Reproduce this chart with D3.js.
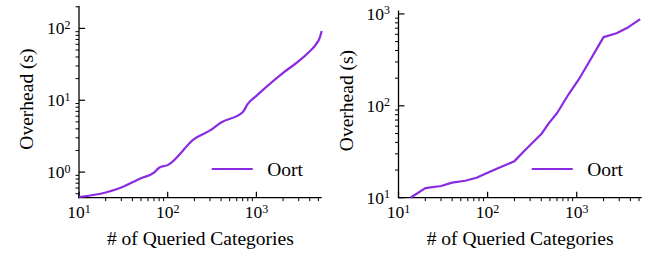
<!DOCTYPE html>
<html>
<head>
<meta charset="utf-8">
<script src="https://cdn.jsdelivr.net/npm/d3@7"></script>
<style>
  body { margin: 0; background: #fff; }
  svg text { font-family: "Liberation Serif", "Times New Roman", serif; fill: #000; }
</style>
</head>
<body>
<svg id="chart" width="655" height="254"></svg>
<script>
'use strict';

// values
const seriesName = 'Oort';
const leftCats = [10, 20, 30, 40, 50, 70, 80, 100, 200, 300, 400, 700, 800, 1000, 2000, 3000, 4000, 4700, 5200, 5450];
const leftOverhead = [0.45, 0.52, 0.61, 0.72, 0.82, 0.98, 1.15, 1.25, 2.9, 3.8, 4.9, 6.8, 8.9, 11.5, 24, 35, 48, 60, 75, 92];
const rightCats = [13.6, 20, 30, 40, 56, 75, 100, 145, 200, 264, 406, 482, 600, 650, 800, 1045, 1350, 2000, 2800, 3800, 5150];
const rightOverhead = [10, 12.7, 13.4, 14.6, 15.3, 16.5, 18.7, 21.8, 25, 33, 50, 64, 83, 94, 131, 191, 291, 560, 617, 718, 877];
const leftXTicks = [10, 100, 1000];
const leftYTicks = [1, 10, 100];
const rightXTicks = [10, 100, 1000];
const rightYTicks = [10, 100, 1000];

const svg = d3.select('#chart');
const purple = '#8a2be2';

// superscript label "10^k"
const powLabel = function (sel, v) {
  const k = Math.round(Math.log10(v));
  sel.append('tspan').text('10');
  sel.append('tspan').attr('font-size', 12).attr('dy', -5.5).text(k);
};

const panel = function (opt) {
  const g = svg.append('g');
  const x = d3.scaleLog().domain(opt.xDomain).range(opt.xRange);
  const y = d3.scaleLog().domain(opt.yDomain).range(opt.yRange);
  const x0 = opt.xRange[0], y0 = opt.yRange[0];

  // minor ticks point out, major ticks point in
  const xMinor = x.ticks().filter((t) => !opt.xMajor.includes(t));
  const yMinor = y.ticks().filter((t) => !opt.yMajor.includes(t));
  g.selectAll('.xminor').data(xMinor).join('line')
    .attr('x1', (d) => x(d)).attr('x2', (d) => x(d))
    .attr('y1', y0).attr('y2', y0 + 3.5)
    .attr('stroke', '#000').attr('stroke-width', 1);
  g.selectAll('.yminor').data(yMinor).join('line')
    .attr('y1', (d) => y(d)).attr('y2', (d) => y(d))
    .attr('x1', x0).attr('x2', x0 - 3.5)
    .attr('stroke', '#000').attr('stroke-width', 1);
  g.selectAll('.xmajor').data(opt.xMajor).join('line')
    .attr('x1', (d) => x(d)).attr('x2', (d) => x(d))
    .attr('y1', y0).attr('y2', y0 - 6)
    .attr('stroke', '#000').attr('stroke-width', 1.2);
  g.selectAll('.ymajor').data(opt.yMajor).join('line')
    .attr('y1', (d) => y(d)).attr('y2', (d) => y(d))
    .attr('x1', x0).attr('x2', x0 + 6)
    .attr('stroke', '#000').attr('stroke-width', 1.2);

  // spines
  g.append('line').attr('x1', x0).attr('x2', x0)
    .attr('y1', opt.yRange[1]).attr('y2', y0 + 0.5)
    .attr('stroke', '#000').attr('stroke-width', 1.3);
  g.append('line').attr('x1', x0 - 0.5).attr('x2', opt.xRange[1])
    .attr('y1', y0).attr('y2', y0)
    .attr('stroke', '#000').attr('stroke-width', 1.3);

  // tick labels
  g.selectAll('.xl').data(opt.xMajor).join('text')
    .attr('x', (d) => x(d)).attr('y', y0 + 20.5)
    .attr('text-anchor', 'middle').attr('font-size', 17.5)
    .each(function (d) { powLabel(d3.select(this), d); });
  g.selectAll('.yl').data(opt.yMajor).join('text')
    .attr('x', x0 - 8.5).attr('y', (d) => y(d) + 6)
    .attr('text-anchor', 'end').attr('font-size', 17.5)
    .each(function (d) { powLabel(d3.select(this), d); });

  // axis titles
  g.append('text')
    .attr('x', (opt.xRange[0] + opt.xRange[1]) / 2).attr('y', 245)
    .attr('text-anchor', 'middle').attr('font-size', 19.5)
    .text('# of Queried Categories');
  g.append('text')
    .attr('transform', `translate(${x0 - 46},${opt.yMid}) rotate(-90)`)
    .attr('text-anchor', 'middle').attr('font-size', 19.5)
    .text('Overhead (s)');

  // the series
  const line = d3.line()
    .x((d) => x(d[0])).y((d) => y(d[1]))
    .curve(opt.curve);
  g.append('path')
    .datum(d3.zip(opt.xs, opt.ys))
    .attr('d', line)
    .attr('fill', 'none').attr('stroke', purple).attr('stroke-width', 2.2)
    .attr('stroke-linejoin', 'round');

  // legend
  const lx = opt.xRange[1] - 110, ly = 169;
  g.append('line').attr('x1', lx).attr('x2', lx + 41)
    .attr('y1', ly).attr('y2', ly)
    .attr('stroke', purple).attr('stroke-width', 2.2);
  g.append('text').attr('x', lx + 55.5).attr('y', ly + 6.5)
    .attr('font-size', 19.5).text(seriesName);
};

panel({
  xDomain: [10, 5450], xRange: [79, 321.7],
  yDomain: [0.44, 205], yRange: [197.7, 6],
  xMajor: leftXTicks, yMajor: leftYTicks, yMid: 99,
  xs: leftCats, ys: leftOverhead, curve: d3.curveMonotoneX,
});
panel({
  xDomain: [10, 5360], xRange: [398.5, 641.7],
  yDomain: [10, 1090], yRange: [197.7, 10.5],
  xMajor: rightXTicks, yMajor: rightYTicks, yMid: 100.5,
  xs: rightCats, ys: rightOverhead, curve: d3.curveLinear,
});
</script>
</body>
</html>
